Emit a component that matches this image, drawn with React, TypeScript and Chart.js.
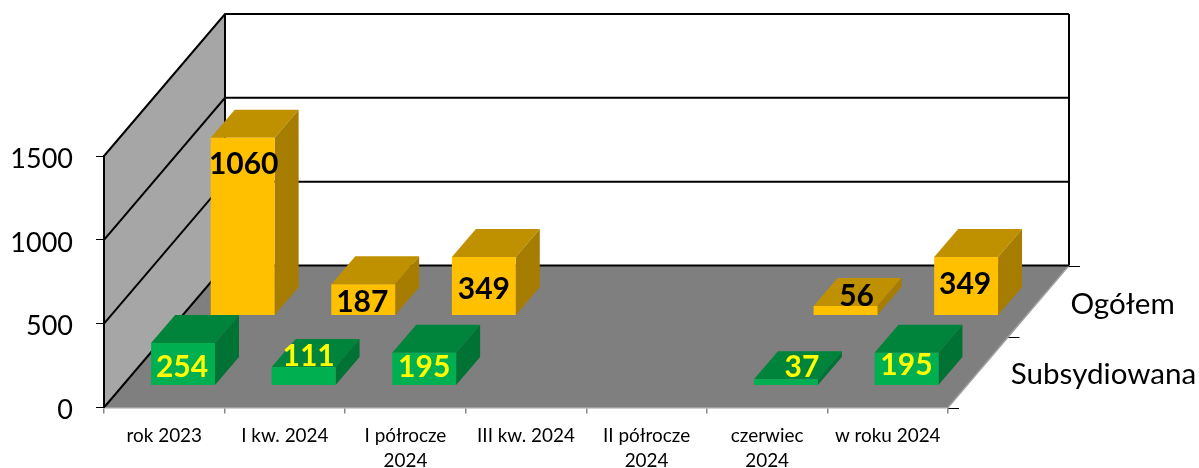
import React, { useEffect, useRef } from "react";
import { Chart, registerables, BarController } from "chart.js";

Chart.register(...registerables);

const categories: (string | string[])[] = [
  "rok 2023",
  "I kw. 2024",
  ["I półrocze", "2024"],
  "III kw. 2024",
  ["II półrocze", "2024"],
  ["czerwiec", "2024"],
  "w roku 2024",
];
const subsydiowana = [254, 111, 195, null, null, 37, 195];
const ogolem = [1060, 187, 349, null, null, 56, 349];
const yTicks = [0, 500, 1000, 1500];

const FONT = "Lato, Carlito, sans-serif";
const WALL_DX = 121;
const WALL_DY = 142;
const BOX_DX = 24;
const BOX_DY = 28;

class Bar3DController extends BarController {
  static id = "bar3d";
  static defaults = BarController.defaults;
  static overrides = BarController.overrides;
  draw() {
    const ctx = this.chart.ctx;
    const meta = this.getMeta();
    const ds: any = this.getDataset();
    const f = ds.depthFraction;
    const ox = WALL_DX * f;
    const oy = -WALL_DY * f;
    meta.data.forEach((el: any, i: number) => {
      if (ds.data[i] == null) return;
      const { x, y, base, width } = el.getProps(["x", "y", "base", "width"], true);
      const l = x - width / 2 + ox;
      const r = x + width / 2 + ox;
      const t = y + oy;
      const b = base + oy;
      ctx.save();
      ctx.fillStyle = ds.topColor;
      ctx.beginPath();
      ctx.moveTo(l, t);
      ctx.lineTo(l + BOX_DX, t - BOX_DY);
      ctx.lineTo(r + BOX_DX, t - BOX_DY);
      ctx.lineTo(r, t);
      ctx.closePath();
      ctx.fill();
      ctx.fillStyle = ds.sideColor;
      ctx.beginPath();
      ctx.moveTo(r, t);
      ctx.lineTo(r + BOX_DX, t - BOX_DY);
      ctx.lineTo(r + BOX_DX, b - BOX_DY);
      ctx.lineTo(r, b);
      ctx.closePath();
      ctx.fill();
      ctx.translate(ox, oy);
      el.draw(ctx);
      ctx.restore();
    });
  }
}
Chart.register(Bar3DController);

const wallsPlugin = {
  id: "walls",
  beforeDraw(chart: any) {
    const { ctx, chartArea: a, scales } = chart;
    const y = scales.y;
    const y0 = y.getPixelForValue(0);
    const yMax = y.getPixelForValue(1500);
    ctx.save();
    // floor
    ctx.fillStyle = "#7f7f7f";
    ctx.beginPath();
    ctx.moveTo(a.left, y0);
    ctx.lineTo(a.left + WALL_DX, y0 - WALL_DY);
    ctx.lineTo(a.right + WALL_DX, y0 - WALL_DY);
    ctx.lineTo(a.right, y0);
    ctx.closePath();
    ctx.fill();
    ctx.strokeStyle = "#a0a0a0";
    ctx.lineWidth = 1.5;
    ctx.beginPath();
    ctx.moveTo(a.right, y0);
    ctx.lineTo(a.right + WALL_DX, y0 - WALL_DY);
    ctx.stroke();
    // side wall
    ctx.fillStyle = "#a6a6a6";
    ctx.beginPath();
    ctx.moveTo(a.left, y0);
    ctx.lineTo(a.left + WALL_DX, y0 - WALL_DY);
    ctx.lineTo(a.left + WALL_DX, yMax - WALL_DY);
    ctx.lineTo(a.left, yMax);
    ctx.closePath();
    ctx.fill();
    // gridlines: on the side wall and the back wall
    ctx.strokeStyle = "#000";
    ctx.lineWidth = 2;
    yTicks.forEach((v) => {
      const p = y.getPixelForValue(v);
      ctx.beginPath();
      ctx.moveTo(a.left, p);
      ctx.lineTo(a.left + WALL_DX, p - WALL_DY);
      ctx.lineTo(a.right + WALL_DX, p - WALL_DY);
      ctx.stroke();
    });
    ctx.beginPath();
    ctx.moveTo(a.left + WALL_DX, y0 - WALL_DY);
    ctx.lineTo(a.left + WALL_DX, yMax - WALL_DY);
    ctx.moveTo(a.right + WALL_DX, y0 - WALL_DY);
    ctx.lineTo(a.right + WALL_DX, yMax - WALL_DY);
    ctx.stroke();
    // depth axis ticks
    ctx.lineWidth = 1;
    [0, 0.5, 1].forEach((f) => {
      const px = a.right + WALL_DX * f;
      const py = Math.round(y0 - WALL_DY * f) + 0.5;
      ctx.beginPath();
      ctx.moveTo(px, py);
      ctx.lineTo(px + 11, py);
      ctx.stroke();
    });
    ctx.restore();
  },
};

const labelOffsets: Record<number, [number, number][]> = {
  0: [[-1, 24], [5, -11], [0, 15], [0, 0], [0, 0], [16, -12], [0, 13]],
  1: [[1, 27], [-1, 18], [0, 32], [0, 0], [0, 0], [11, -10], [-1, 27]],
};

const labelsPlugin = {
  id: "boxLabels",
  afterDatasetsDraw(chart: any) {
    const { ctx, chartArea: a, scales } = chart;
    const y0 = scales.y.getPixelForValue(0);
    ctx.save();
    ctx.textAlign = "center";
    ctx.textBaseline = "middle";
    chart.data.datasets.forEach((ds: any, i: number) => {
      const meta = chart.getDatasetMeta(i);
      const ox = WALL_DX * ds.depthFraction;
      const oy = -WALL_DY * ds.depthFraction;
      ctx.font = `bold 30px ${FONT}`;
      ctx.fillStyle = ds.labelColor;
      meta.data.forEach((el: any, j: number) => {
        const v = ds.data[j];
        if (v == null) return;
        const [dx, dy] = labelOffsets[i][j];
        ctx.fillText(String(v), el.x + ox + dx, el.y + oy + dy);
      });
      // series name on the depth axis
      ctx.font = `29.6px ${FONT}`;
      ctx.fillStyle = "#000";
      ctx.textAlign = "left";
      ctx.fillText(ds.label, a.right + ox + 44, y0 + oy - 11);
      ctx.textAlign = "center";
    });
    ctx.restore();
  },
};

export default function App() {
  const ref = useRef<HTMLCanvasElement>(null);
  useEffect(() => {
    const chart = new Chart(ref.current!, {
      type: "bar3d" as any,
      data: {
        labels: categories as any,
        datasets: [
          {
            label: "Subsydiowana",
            data: subsydiowana,
            backgroundColor: "#00b050",
            topColor: "#00843c",
            sideColor: "#007234",
            labelColor: "#ffff00",
            depthFraction: 0.155,
            clip: false,
          },
          {
            label: "Ogółem",
            data: ogolem,
            backgroundColor: "#ffc000",
            topColor: "#bf9000",
            sideColor: "#a67d00",
            labelColor: "#000000",
            depthFraction: 0.648,
            clip: false,
          },
        ] as any,
      },
      options: {
        responsive: false,
        animation: false,
        grouped: false,
        categoryPercentage: 1,
        barPercentage: 0.53,
        layout: { padding: { top: 156, right: 251, left: 0, bottom: 0 } },
        plugins: { legend: { display: false }, tooltip: { enabled: false } },
        scales: {
          x: {
            grid: { drawOnChartArea: false, color: "#868686", tickLength: 6, lineWidth: 1.5 },
            border: { color: "#a0a0a0", width: 1.5 },
            ticks: {
              color: "#000",
              autoSkip: false,
              maxRotation: 0,
              minRotation: 0,
              padding: 9,
              font: { family: FONT, size: 18.9, lineHeight: 1.37 },
            },
            afterFit: (s: any) => {
              s.height = 60.5;
            },
          },
          y: {
            min: 0,
            max: 1500,
            afterBuildTicks: (s: any) => {
              s.ticks = yTicks.map((value) => ({ value }));
            },
            grid: { drawOnChartArea: false, color: "#000", tickLength: 8, lineWidth: 1 },
            border: { color: "#000", width: 2 },
            ticks: {
              color: "#000",
              padding: 23,
              labelOffset: 3,
              callback: (v: any) => String(v),
              font: { family: FONT, size: 27 },
            },
            afterFit: (s: any) => {
              s.width = 104;
            },
          },
        },
      } as any,
      plugins: [wallsPlugin, labelsPlugin],
    });
    return () => chart.destroy();
  }, []);
  return (
    <div style={{ position: "fixed", left: 0, top: 0, width: 1199, height: 468, background: "#fff" }}>
      <canvas ref={ref} width={1199} height={468} style={{ display: "block" }} />
    </div>
  );
}
